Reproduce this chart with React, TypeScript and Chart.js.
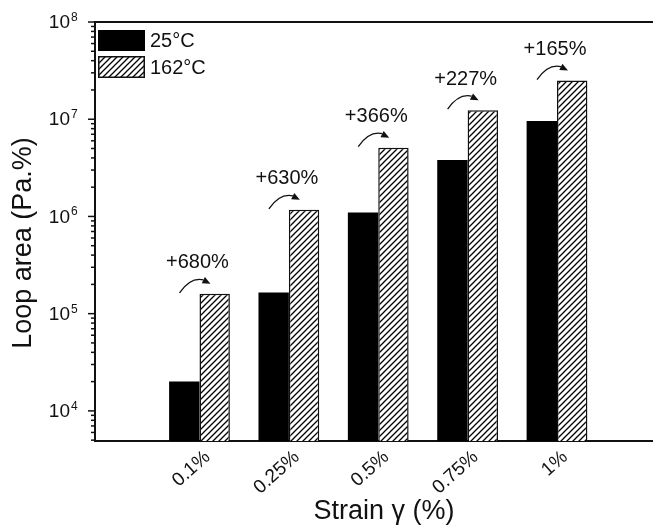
import React, { useEffect, useRef } from "react";
import { Chart, registerables } from "chart.js";

Chart.register(...registerables);

const categories = ["0.1%", "0.25%", "0.5%", "0.75%", "1%"];
const series25 = [2.0e4, 1.65e5, 1.1e6, 3.8e6, 9.6e6];
const series162 = [1.6e5, 1.17e6, 5.1e6, 1.24e7, 2.5e7];
const increaseLabels = ["+680%", "+630%", "+366%", "+227%", "+165%"];
const seriesNames = ["25°C", "162°C"];
const yDecades = [4, 5, 6, 7, 8];
const xTitle = "Strain γ (%)";
const yTitle = "Loop area (Pa.%)";

const FONT = "'Liberation Sans', Arial, sans-serif";
const INK = "#111";

function makeHatch(ctx: CanvasRenderingContext2D) {
  const c = document.createElement("canvas");
  c.width = 6;
  c.height = 6;
  const g = c.getContext("2d")!;
  g.fillStyle = "#fff";
  g.fillRect(0, 0, 6, 6);
  g.strokeStyle = "#000";
  g.lineWidth = 1.3;
  g.beginPath();
  g.moveTo(-1, 7);
  g.lineTo(7, -1);
  g.moveTo(-1, 1);
  g.lineTo(1, -1);
  g.moveTo(5, 7);
  g.lineTo(7, 5);
  g.stroke();
  return ctx.createPattern(c, "repeat");
}

const decorPlugin = {
  id: "decor",
  afterDraw(chart: any) {
    const { ctx, chartArea, scales } = chart;
    const y = scales.y;
    const left = chartArea.left;
    ctx.save();

    // top frame line
    ctx.strokeStyle = INK;
    ctx.lineWidth = 2;
    ctx.beginPath();
    ctx.moveTo(left - 1, chartArea.top);
    ctx.lineTo(chartArea.right, chartArea.top);
    ctx.stroke();

    // y tick marks (major + minor), outward
    ctx.lineWidth = 1.5;
    for (let n = 3; n <= 8; n++) {
      for (let k = 1; k <= 9; k++) {
        const v = k * Math.pow(10, n);
        if (v < y.min || v > y.max * 1.0001) continue;
        const py = y.getPixelForValue(v);
        const len = k === 1 ? 7 : 4;
        ctx.beginPath();
        ctx.moveTo(left - len, py);
        ctx.lineTo(left, py);
        ctx.stroke();
      }
    }

    // y tick labels 10^n
    ctx.fillStyle = INK;
    yDecades.forEach((n) => {
      const py = y.getPixelForValue(Math.pow(10, n));
      ctx.font = `19px ${FONT}`;
      ctx.textAlign = "right";
      ctx.textBaseline = "middle";
      ctx.fillText("10", 70, py + 1);
      ctx.font = `12px ${FONT}`;
      ctx.textAlign = "left";
      ctx.textBaseline = "alphabetic";
      ctx.fillText(String(n), 71, py - 1);
    });

    // annotations with curved arrows
    const m0 = chart.getDatasetMeta(0);
    const m1 = chart.getDatasetMeta(1);
    increaseLabels.forEach((lab, i) => {
      const b = m0.data[i];
      const h = m1.data[i];
      if (!b || !h) return;
      const cx = (b.x + h.x) / 2;
      const top = h.y;
      ctx.fillStyle = INK;
      ctx.font = `20px ${FONT}`;
      ctx.textAlign = "center";
      ctx.textBaseline = "middle";
      ctx.fillText(lab, cx - 2, top - 31);
      // arrow curve
      ctx.strokeStyle = INK;
      ctx.lineWidth = 1.3;
      ctx.beginPath();
      ctx.moveTo(cx - 20, top - 1);
      ctx.quadraticCurveTo(cx - 9, top - 17, cx + 4, top - 14);
      ctx.stroke();
      // arrow head
      const tipX = cx + 11;
      const tipY = top - 10;
      const dx = tipX - (cx + 3);
      const dy = tipY - (top - 14);
      const L = Math.hypot(dx, dy);
      const ux = dx / L;
      const uy = dy / L;
      const bx = tipX - 8 * ux;
      const by = tipY - 8 * uy;
      ctx.fillStyle = INK;
      ctx.beginPath();
      ctx.moveTo(tipX, tipY);
      ctx.lineTo(bx - 3.5 * uy, by + 3.5 * ux);
      ctx.lineTo(bx + 3.5 * uy, by - 3.5 * ux);
      ctx.closePath();
      ctx.fill();
    });

    // legend
    const ds = chart.data.datasets;
    const boxes = [
      { y: 30, h: 21 },
      { y: 56, h: 22 },
    ];
    boxes.forEach((bx, i) => {
      const d = ds[i];
      ctx.fillStyle = d.backgroundColor;
      ctx.fillRect(98, bx.y, 47, bx.h);
      if (d.borderWidth) {
        ctx.strokeStyle = INK;
        ctx.lineWidth = 1.5;
        ctx.strokeRect(98.75, bx.y + 0.75, 45.5, bx.h - 1.5);
      }
      ctx.fillStyle = INK;
      ctx.font = `20px ${FONT}`;
      ctx.textAlign = "left";
      ctx.textBaseline = "middle";
      ctx.fillText(seriesNames[i], 150, bx.y + bx.h / 2 + 1);
    });

    // axis titles
    ctx.fillStyle = INK;
    ctx.font = `27px ${FONT}`;
    ctx.textAlign = "center";
    ctx.textBaseline = "middle";
    ctx.fillText(xTitle, 384, 512);
    ctx.save();
    ctx.translate(24, 243);
    ctx.rotate(-Math.PI / 2);
    ctx.font = `27px ${FONT}`;
    ctx.fillText(yTitle, 0, 0);
    ctx.restore();

    ctx.restore();
  },
};

export default function App() {
  const ref = useRef<HTMLCanvasElement | null>(null);

  useEffect(() => {
    const canvas = ref.current;
    if (!canvas) return;
    const ctx = canvas.getContext("2d")!;
    const hatch = makeHatch(ctx);

    const chart = new Chart(canvas, {
      type: "bar",
      data: {
        datasets: [
          {
            label: seriesNames[0],
            data: series25.map((v, i) => ({ x: i + 1, y: v })),
            backgroundColor: "#000",
            borderWidth: 0,
          },
          {
            label: seriesNames[1],
            data: series162.map((v, i) => ({ x: i + 1, y: v })),
            backgroundColor: hatch as any,
            borderColor: INK,
            borderWidth: 1.5,
          },
        ],
      },
      options: {
        animation: false,
        responsive: false,
        devicePixelRatio: 1,
        layout: { padding: { top: 22, right: 0, left: 0, bottom: 0 } },
        datasets: {
          bar: { categoryPercentage: 0.68, barPercentage: 1 },
        },
        plugins: {
          legend: { display: false },
          tooltip: { enabled: false },
          title: { display: false },
        },
        scales: {
          x: {
            type: "linear",
            offset: false,
            min: -0.169,
            max: 6.074,
            grid: { display: true, offset: false, drawOnChartArea: false, drawTicks: false },
            border: { display: true, width: 2, color: INK },
            afterBuildTicks: (scale: any) => {
              scale.ticks = categories.map((_, i) => ({ value: i + 1 }));
            },
            afterFit: (scale: any) => {
              scale.height = 90;
              scale.paddingLeft = 0;
              scale.paddingRight = 0;
            },
            ticks: {
              autoSkip: false,
              minRotation: 42,
              maxRotation: 42,
              padding: 5,
              labelOffset: 8,
              color: INK,
              font: { family: FONT, size: 19 },
              callback: (value: any) => categories[Math.round(Number(value)) - 1] ?? "",
            },
          },
          y: {
            type: "logarithmic",
            min: 4900,
            max: 1e8,
            position: "left",
            grid: { display: true, drawOnChartArea: false, drawTicks: false },
            border: { display: true, width: 2, color: INK },
            ticks: { display: false },
            afterFit: (scale: any) => {
              scale.width = 95;
            },
          },
        },
      },
      plugins: [decorPlugin],
    } as any);

    return () => chart.destroy();
  }, []);

  return (
    <div style={{ position: "fixed", left: 0, top: 0, width: 653, height: 531, background: "#fff" }}>
      <canvas ref={ref} width={653} height={531} style={{ width: 653, height: 531, display: "block" }} />
    </div>
  );
}
